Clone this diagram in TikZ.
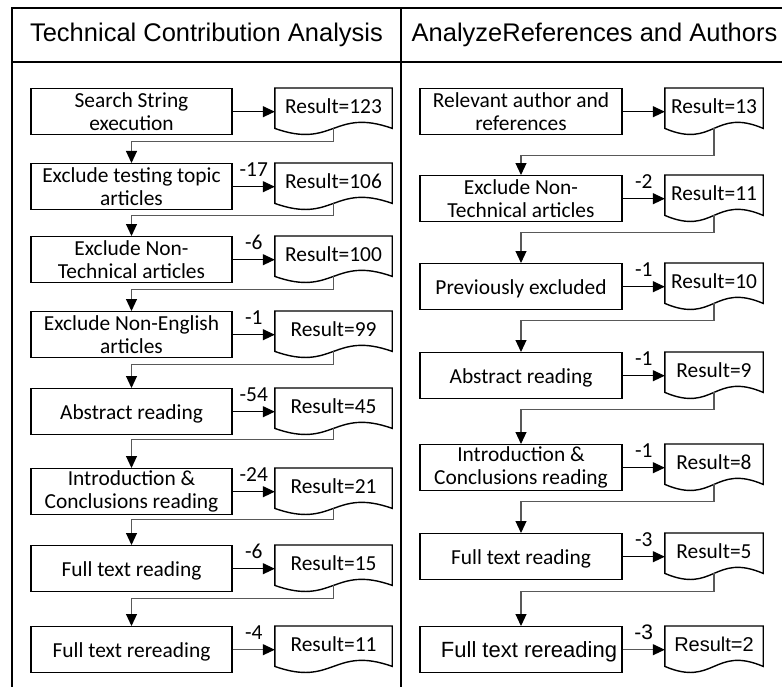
\documentclass[tikz,border=0pt]{standalone}
\usepackage{fontspec}
\setmainfont{Carlito}
\newfontfamily\arialf{Liberation Sans}
\usetikzlibrary{arrows.meta}
\newcommand\cfont{\fontsize{21.4bp}{23bp}\selectfont}
\newcommand\docwave[1]{\draw[docline] (#1.north west) -- (#1.north east) -- (#1.south east) .. controls ([yshift=21bp]#1.south) and ([yshift=-21bp]#1.south) .. (#1.south west) -- cycle;}
\tikzset{
  frame/.style={line width=2bp, draw=black},
  stepbox/.style={draw, line width=1.4bp, minimum width=201bp, minimum height=46bp, inner sep=0pt, align=center, font=\cfont, anchor=north},
  rbox/.style={stepbox, minimum width=202bp},
  oneline/.style={text height=15bp, text depth=0bp},
  docnode/.style={minimum width=117bp, minimum height=40bp, inner sep=0pt, anchor=north, font=\cfont, text height=14bp, text depth=4bp},
  rdoc/.style={docnode, minimum width=98bp},
  docline/.style={line width=1.4bp},
  arr/.style={line width=1.1bp, -{Triangle[length=12bp,width=11bp]}},
  garr/.style={line width=1.1bp, draw=black!65, -{Triangle[length=12bp,width=11bp,color=black]}},
  conn/.style={line width=1.1bp, draw=black!65, -{Triangle[length=12bp,width=11bp,color=black]}},
  lbl/.style={font=\cfont, inner sep=0pt, yshift=17bp},
  header/.style={font=\arialf\fontsize{25.5bp}{28bp}\selectfont, inner sep=0pt}
}
\begin{document}
\begin{tikzpicture}[x=1bp,y=-1bp]
\useasboundingbox (0,0) rectangle (782,687);
% frame
\draw[frame] (782,8) -- (12,8) -- (12,687);
\draw[frame] (401,8) -- (401,687);
\draw[line width=1.6bp] (12,62) -- (782,62);
\node[header] (h1) at (206.5,35) {Technical Contribution Analysis};
\node[header] (h2) at (594.5,35) {AnalyzeReferences and Authors};

% left column
\node[stepbox] (l1) at (131.5,88) {Search String\\execution};
\node[stepbox] (l2) at (131.5,163) {Exclude testing topic\\articles};
\node[stepbox] (l3) at (131.5,236) {Exclude Non-\\Technical articles};
\node[stepbox] (l4) at (131.5,311) {Exclude Non-English\\articles};
\node[stepbox, oneline] (l5) at (131.5,388) {Abstract reading};
\node[stepbox] (l6) at (131.5,468) {Introduction \&\\Conclusions reading};
\node[stepbox, oneline] (l7) at (131.5,545) {Full text reading};
\node[stepbox, oneline] (l8) at (131.5,626) {Full text rereading};

\node[docnode] (ld1) at (333.5,88) {Result=123};
\node[docnode] (ld2) at (333.5,163) {Result=106};
\node[docnode] (ld3) at (333.5,236) {Result=100};
\node[docnode] (ld4) at (333.5,311) {Result=99};
\node[docnode] (ld5) at (333.5,388) {Result=45};
\node[docnode] (ld6) at (333.5,468) {Result=21};
\node[docnode] (ld7) at (333.5,545) {Result=15};
\node[docnode] (ld8) at (333.5,626) {Result=11};
\docwave{ld1}\docwave{ld2}\docwave{ld3}\docwave{ld4}
\docwave{ld5}\docwave{ld6}\docwave{ld7}\docwave{ld8}

\draw[arr] (l1.east) -- (l1.east -| ld1.west);
\draw[arr] (l2.east) -- node[lbl]{-17} (l2.east -| ld2.west);
\draw[arr] (l3.east) -- node[lbl]{-6} (l3.east -| ld3.west);
\draw[arr] (l4.east) -- node[lbl]{-1} (l4.east -| ld4.west);
\draw[arr] (l5.east) -- node[lbl]{-54} (l5.east -| ld5.west);
\draw[arr] (l6.east) -- node[lbl]{-24} (l6.east -| ld6.west);
\draw[arr] (l7.east) -- node[lbl]{-6} (l7.east -| ld7.west);
\draw[garr] (l8.east) -- node[lbl]{-4} (l8.east -| ld8.west);

\draw[conn] (ld1.south) -- ++(0,13) -| (l2.north);
\draw[conn] (ld2.south) -- ++(0,12) -| (l3.north);
\draw[conn] (ld3.south) -- ++(0,13) -| (l4.north);
\draw[conn] (ld4.south) -- ++(0,13) -| (l5.north);
\draw[conn] (ld5.south) -- ++(0,11) -| (l6.north);
\draw[conn] (ld6.south) -- ++(0,11) -| (l7.north);
\draw[conn] (ld7.south) -- ++(0,13) -| (l8.north);

% right column
\node[rbox] (r1) at (521,88) {Relevant author and\\references};
\node[rbox] (r2) at (521,175) {Exclude Non-\\Technical articles};
\node[rbox, oneline] (r3) at (521,263) {Previously excluded};
\node[rbox, oneline] (r4) at (521,352) {Abstract reading};
\node[rbox] (r5) at (521,444) {Introduction \&\\Conclusions reading};
\node[rbox, oneline] (r6) at (521,533) {Full text reading};
\node[rbox, oneline, font=\arialf\fontsize{22bp}{24bp}\selectfont] (r7) at (521,626) {\hspace*{16bp}Full text rereading};

\node[rdoc] (rd1) at (714,88) {Result=13};
\node[rdoc] (rd2) at (714,175) {Result=11};
\node[rdoc] (rd3) at (714,263) {Result=10};
\node[rdoc] (rd4) at (714,352) {Result=9};
\node[rdoc] (rd5) at (714,444) {Result=8};
\node[rdoc] (rd6) at (714,533) {Result=5};
\node[rdoc, font=\arialf\fontsize{20bp}{22bp}\selectfont] (rd7) at (714,626) {Result=2};
\docwave{rd1}\docwave{rd2}\docwave{rd3}\docwave{rd4}
\docwave{rd5}\docwave{rd6}\docwave{rd7}

\draw[arr] (r1.east) -- (r1.east -| rd1.west);
\draw[arr] (r2.east) -- node[lbl]{-2} (r2.east -| rd2.west);
\draw[arr] (r3.east) -- node[lbl]{-1} (r3.east -| rd3.west);
\draw[arr] (r4.east) -- node[lbl]{-1} (r4.east -| rd4.west);
\draw[arr] (r5.east) -- node[lbl]{-1} (r5.east -| rd5.west);
\draw[arr] (r6.east) -- node[lbl]{-3} (r6.east -| rd6.west);
\draw[garr] (r7.east) -- node[lbl, font=\arialf\fontsize{21bp}{23bp}\selectfont]{-3} (r7.east -| rd7.west);

\draw[conn] (rd1.south) -- ++(0,27) -| (r2.north);
\draw[conn] (rd2.south) -- ++(0,17) -| (r3.north);
\draw[conn] (rd3.south) -- ++(0,17) -| (r4.north);
\draw[conn] (rd4.south) -- ++(0,17) -| (r5.north);
\draw[conn] (rd5.south) -- ++(0,17) -| (r6.north);
\draw[conn] (rd6.south) -- ++(0,18) -| (r7.north);
\end{tikzpicture}
\end{document}
